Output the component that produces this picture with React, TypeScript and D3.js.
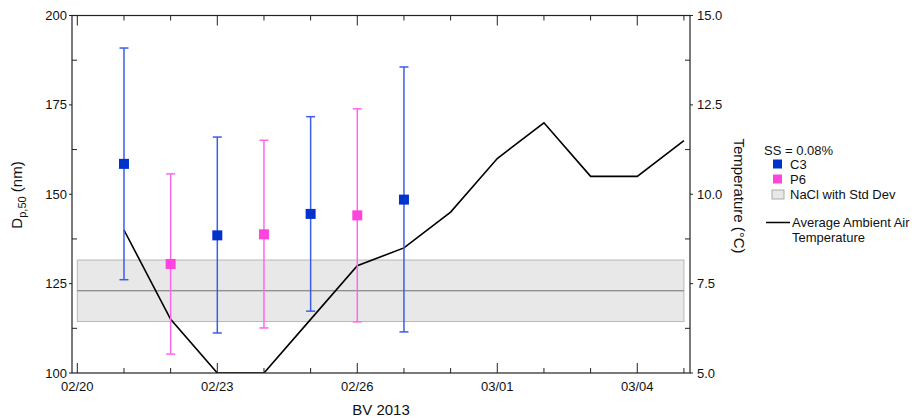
import React from "react";
import * as d3 from "d3";

const c3Dates = ["2013-02-21", "2013-02-23", "2013-02-25", "2013-02-27"];
const c3Mean = [158.5, 138.5, 144.5, 148.5];
const c3Upper = [190.9, 166.0, 171.7, 185.6];
const c3Lower = [126.1, 111.2, 117.3, 111.5];

const p6Dates = ["2013-02-22", "2013-02-24", "2013-02-26"];
const p6Mean = [130.5, 138.8, 144.1];
const p6Upper = [155.7, 165.1, 173.9];
const p6Lower = [105.3, 112.6, 114.3];

const tempDates = [
  "2013-02-21", "2013-02-22", "2013-02-23", "2013-02-24", "2013-02-25",
  "2013-02-26", "2013-02-27", "2013-02-28", "2013-03-01", "2013-03-02",
  "2013-03-03", "2013-03-04", "2013-03-05",
];
const tempValues = [9.0, 6.5, 5.0, 5.0, 6.5, 8.0, 8.5, 9.5, 11.0, 12.0, 10.5, 10.5, 11.5];

const naclMean = 123.0;
const naclLow = 114.4;
const naclHigh = 131.6;
const naclRange = ["2013-02-20", "2013-03-05"];

const leftTicks = [100, 125, 150, 175, 200];
const rightTicks = [5.0, 7.5, 10.0, 12.5, 15.0];

const legendItems = ["C3", "P6", "NaCl with Std Dev"];

const parse = (s: string) => {
  const [y, m, d] = s.split("-").map(Number);
  return new Date(y, m - 1, d);
};
const DAY = 86400000;

export default function App() {
  const W = 914, H = 420;
  const L = 72, R = 690, T = 15.5, B = 373;
  const start = parse("2013-02-20");
  const x = d3.scaleTime()
    .domain([new Date(start.getTime() - 0.114 * DAY), new Date(start.getTime() + 13.13 * DAY)])
    .range([L, R]);
  const y = d3.scaleLinear().domain([100, 200]).range([B, T]);
  const yT = d3.scaleLinear().domain([5, 15]).range([B, T]);

  const dayTicks = d3.timeDay.range(start, new Date(start.getTime() + 13.5 * DAY));
  const majorTicks = dayTicks.filter((_, i) => i % 3 === 0);
  const fmt = d3.timeFormat("%m/%d");
  const leftMinor = d3.range(112.5, 200, 25);
  const rightMinor = d3.range(6.25, 15, 2.5);

  const line = d3.line<[Date, number]>()
    .x((d) => x(d[0]))
    .y((d) => yT(d[1]));
  const tempPts: [Date, number][] = tempDates.map((d, i) => [parse(d), tempValues[i]]);

  const axisColor = "#222";
  const font = "Liberation Sans, Arial, sans-serif";
  const c3Marker = "#0033cc";
  const c3Bar = "#3a5ee8";
  const p6Marker = "#ff44dd";
  const p6Bar = "#ff66ee";

  const errorBars = (dates: string[], mean: number[], lo: number[], hi: number[], bar: string, mark: string, key: string) =>
    dates.map((ds, i) => {
      const cx = x(parse(ds));
      return (
        <g key={key + i}>
          <line x1={cx} x2={cx} y1={y(hi[i])} y2={y(lo[i])} stroke={bar} strokeWidth={1.5} />
          <line x1={cx - 4.5} x2={cx + 4.5} y1={y(hi[i])} y2={y(hi[i])} stroke={bar} strokeWidth={1.5} />
          <line x1={cx - 4.5} x2={cx + 4.5} y1={y(lo[i])} y2={y(lo[i])} stroke={bar} strokeWidth={1.5} />
          <rect x={cx - 5} y={y(mean[i]) - 5} width={10} height={10} fill={mark} />
        </g>
      );
    });

  const lx = 772, ly = 150;
  return (
    <svg width={W} height={H} style={{ position: "absolute", left: 0, top: 0 }} fontFamily={font}>
      <defs>
        <clipPath id="plot">
          <rect x={L} y={T} width={R - L} height={B - T} />
        </clipPath>
      </defs>
      {/* NaCl band */}
      <rect
        x={x(parse(naclRange[0]))}
        width={x(parse(naclRange[1])) - x(parse(naclRange[0]))}
        y={y(naclHigh)}
        height={y(naclLow) - y(naclHigh)}
        fill="#e8e8e8"
        stroke="#b8b8b8"
        strokeWidth={1}
      />
      <line x1={x(parse(naclRange[0]))} x2={x(parse(naclRange[1]))} y1={y(naclMean)} y2={y(naclMean)} stroke="#707070" strokeWidth={1} />

      {/* temperature line */}
      <path d={line(tempPts) || ""} fill="none" stroke="#000" strokeWidth={1.6} clipPath="url(#plot)" />

      {errorBars(c3Dates, c3Mean, c3Lower, c3Upper, c3Bar, c3Marker, "c3")}
      {errorBars(p6Dates, p6Mean, p6Lower, p6Upper, p6Bar, p6Marker, "p6")}

      {/* frame */}
      <rect x={L} y={T} width={R - L} height={B - T} fill="none" stroke={axisColor} strokeWidth={1.2} />

      {/* x ticks bottom and top */}
      {dayTicks.map((d, i) => {
        const major = i % 3 === 0;
        const len = major ? 10 : 5;
        const xx = x(d);
        return (
          <g key={"xt" + i}>
            <line x1={xx} x2={xx} y1={B} y2={B - len} stroke={axisColor} strokeWidth={1} />
            <line x1={xx} x2={xx} y1={T} y2={T + len} stroke={axisColor} strokeWidth={1} />
          </g>
        );
      })}
      {majorTicks.map((d, i) => (
        <text key={"xl" + i} x={x(d)} y={391} textAnchor="middle" fontSize={13} fill="#111">
          {fmt(d)}
        </text>
      ))}

      {/* left axis */}
      {leftTicks.map((v) => (
        <g key={"lt" + v}>
          <line x1={L - 3} x2={L} y1={y(v)} y2={y(v)} stroke={axisColor} strokeWidth={1} />
          <text x={L - 5} y={y(v)} dy="0.35em" textAnchor="end" fontSize={13} fill="#111">{v}</text>
        </g>
      ))}
      {leftMinor.map((v) => (
        <line key={"lm" + v} x1={L} x2={L + 5} y1={y(v)} y2={y(v)} stroke={axisColor} strokeWidth={1} />
      ))}

      {/* right axis */}
      {rightTicks.map((v) => (
        <g key={"rt" + v}>
          <line x1={R} x2={R + 3} y1={yT(v)} y2={yT(v)} stroke={axisColor} strokeWidth={1} />
          <text x={R + 7} y={yT(v)} dy="0.35em" textAnchor="start" fontSize={13} fill="#111">{v.toFixed(1)}</text>
        </g>
      ))}
      {rightMinor.map((v) => (
        <line key={"rm" + v} x1={R - 5} x2={R} y1={yT(v)} y2={yT(v)} stroke={axisColor} strokeWidth={1} />
      ))}

      {/* axis titles */}
      <text transform={`translate(22,195) rotate(-90)`} textAnchor="middle" fontSize={15} fill="#111">
        D<tspan fontSize={11} dy="4">p,50</tspan><tspan dy="-4"> (nm)</tspan>
      </text>
      <text transform={`translate(734,196) rotate(90)`} textAnchor="middle" fontSize={15} fill="#111">
        Temperature (°C)
      </text>
      <text x={(L + R) / 2} y={415} textAnchor="middle" fontSize={15} fill="#111">BV 2013</text>

      {/* legend */}
      <text x={764} y={ly} dy="0.35em" fontSize={13} fill="#111">SS = 0.08%</text>
      <rect x={lx + 1} y={ly + 14 - 4.5} width={9} height={9} fill={c3Marker} />
      <rect x={lx + 1} y={ly + 29 - 4.5} width={9} height={9} fill={p6Marker} />
      <rect x={lx} y={ly + 44.5 - 4.5} width={12} height={9} fill="#e8e8e8" stroke="#aaa" strokeWidth={1} />
      {legendItems.map((t, i) => (
        <text key={t} x={790} y={ly + 14 + i * 15} dy="0.35em" fontSize={13} fill="#111">{t}</text>
      ))}
      <line x1={766} x2={790} y1={222.5} y2={222.5} stroke="#000" strokeWidth={1.5} />
      <text x={792} y={222.5} dy="0.35em" fontSize={13} fill="#111">Average Ambient Air</text>
      <text x={792} y={237.5} dy="0.35em" fontSize={13} fill="#111">Temperature</text>
    </svg>
  );
}
